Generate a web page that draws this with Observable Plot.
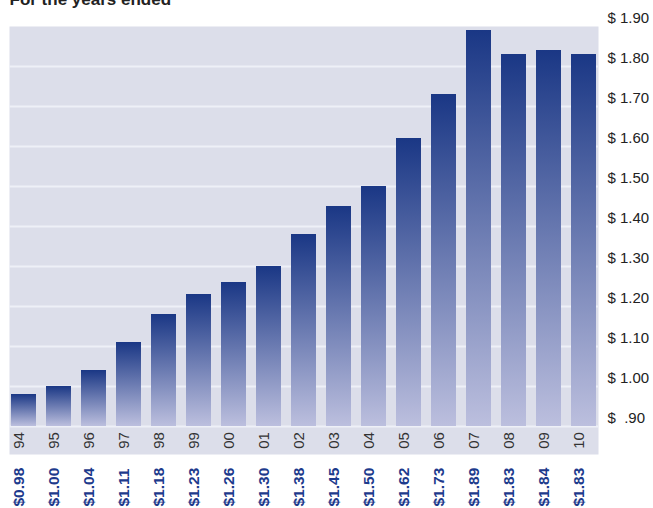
<!DOCTYPE html>
<html>
<head>
<meta charset="utf-8">
<script src="https://cdn.jsdelivr.net/npm/d3@7"></script>
<script src="https://cdn.jsdelivr.net/npm/@observablehq/plot@0.6"></script>
<style>
  html, body { margin: 0; padding: 0; background: #ffffff; }
</style>
</head>
<body>
<div id="chart"></div>
<script>
const title = "For the years ended";
const years = ["94","95","96","97","98","99","00","01","02","03","04","05","06","07","08","09","10"];
const values = [0.98, 1.00, 1.04, 1.11, 1.18, 1.23, 1.26, 1.30, 1.38, 1.45, 1.50, 1.62, 1.73, 1.89, 1.83, 1.84, 1.83];
const valueLabels = ["$0.98","$1.00","$1.04","$1.11","$1.18","$1.23","$1.26","$1.30","$1.38","$1.45","$1.50","$1.62","$1.73","$1.89","$1.83","$1.84","$1.83"];
const yTicks = [0.90, 1.00, 1.10, 1.20, 1.30, 1.40, 1.50, 1.60, 1.70, 1.80, 1.90];
const yTickLabels = ["$\u00a0\u00a0.90","$ 1.00","$ 1.10","$ 1.20","$ 1.30","$ 1.40","$ 1.50","$ 1.60","$ 1.70","$ 1.80","$ 1.90"];

const data = years.map((y, i) => ({year: y, value: values[i], label: valueLabels[i]}));

function gradientDefs() {
  const defs = d3.create("svg:defs");
  const g = defs.append("linearGradient")
    .attr("id", "barGrad").attr("x1", 0).attr("x2", 0).attr("y1", 0).attr("y2", 1);
  g.append("stop").attr("offset", "0%").attr("stop-color", "#1a3785");
  g.append("stop").attr("offset", "100%").attr("stop-color", "#bcbfde");
  return defs.node();
}

const chart = Plot.plot({
  width: 653,
  height: 508,
  marginTop: 26,
  marginBottom: 54,
  marginLeft: 9,
  marginRight: 55,
  style: {fontFamily: "'Liberation Sans', Arial, Helvetica, sans-serif", background: "#ffffff"},
  x: {domain: years, paddingInner: 0.29, paddingOuter: 0, axis: null},
  y: {domain: [0.83, 1.90], axis: null},
  marks: [
    gradientDefs,
    Plot.frame({fill: "#dcdeea", stroke: null}),
    Plot.ruleY(yTicks.filter(t => t < 1.9), {stroke: "#eef0f7", strokeWidth: 2}),
    Plot.barY(data, {x: "year", y1: 0.9, y2: "value", fill: "url(#barGrad)"}),
    Plot.axisY(yTicks, {
      anchor: "right", label: null, tickSize: 0, tickPadding: 0, dx: 9, dy: -8,
      textAnchor: "start", fontSize: 15, color: "#222",
      tickFormat: d => yTickLabels[yTicks.indexOf(d)]
    }),
    Plot.text(data, {
      x: "year", text: "year", frameAnchor: "bottom", dy: -14,
      rotate: -90, textAnchor: "middle", fontSize: 15, fill: "#333"
    }),
    Plot.text(data, {
      x: "year", text: "label", frameAnchor: "bottom", dy: 52,
      rotate: -90, textAnchor: "start", fontSize: 15.5, fontWeight: "bold", fill: "#1d3a8c"
    }),
    Plot.text([title], {
      text: d => d, frameAnchor: "top-left", lineAnchor: "top", dy: -34, textAnchor: "start",
      fontSize: 17, fontWeight: "bold", fill: "#222"
    })
  ]
});
document.getElementById("chart").appendChild(chart);
</script>
</body>
</html>
